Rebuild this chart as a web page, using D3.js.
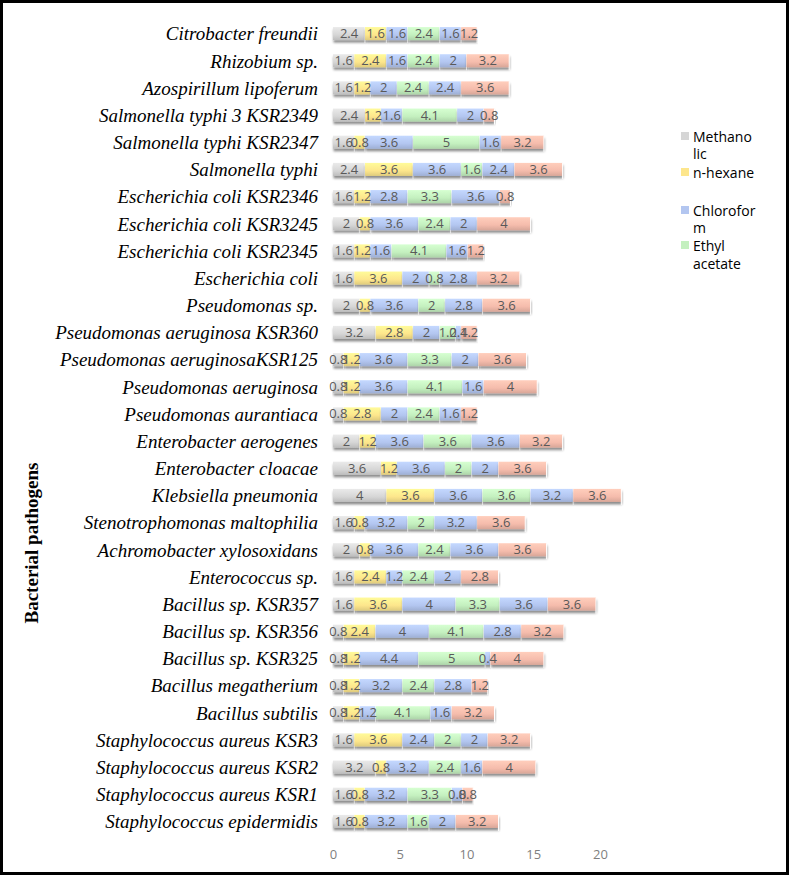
<!DOCTYPE html>
<html>
<head>
<meta charset="utf-8">
<script src="https://cdn.jsdelivr.net/npm/d3@7"></script>
<style>
  body { margin: 0; background: #fff; }
  svg { display: block; }
</style>
</head>
<body>
<div id="chart"></div>
<script>
var pathogens = [
  "Citrobacter freundii", "Rhizobium sp.", "Azospirillum lipoferum",
  "Salmonella typhi 3 KSR2349", "Salmonella typhi KSR2347", "Salmonella typhi ",
  "Escherichia coli KSR2346", "Escherichia coli KSR3245", "Escherichia coli KSR2345",
  "Escherichia coli ", "Pseudomonas sp.", "Pseudomonas aeruginosa KSR360",
  "Pseudomonas aeruginosaKSR125", "Pseudomonas aeruginosa", "Pseudomonas aurantiaca",
  "Enterobacter aerogenes", "Enterobacter cloacae", "Klebsiella pneumonia",
  "Stenotrophomonas maltophilia", "Achromobacter xylosoxidans", "Enterococcus sp.",
  "Bacillus sp. KSR357", "Bacillus sp. KSR356", "Bacillus sp. KSR325",
  "Bacillus megatherium", "Bacillus subtilis", "Staphylococcus aureus KSR3",
  "Staphylococcus aureus KSR2", "Staphylococcus aureus KSR1", "Staphylococcus epidermidis"
];

// one array per extract, same order as pathogens
var methanolic = [2.4,1.6,1.6,2.4,1.6,2.4,1.6,2,1.6,1.6,2,3.2,0.8,0.8,0.8,2,3.6,4,1.6,2,1.6,1.6,0.8,0.8,0.8,0.8,1.6,3.2,1.6,1.6];
var nhexane    = [1.6,2.4,1.2,1.2,0.8,3.6,1.2,0.8,1.2,3.6,0.8,2.8,1.2,1.2,2.8,1.2,1.2,3.6,0.8,0.8,2.4,3.6,2.4,1.2,1.2,1.2,3.6,0.8,0.8,0.8];
var chloroform = [1.6,1.6,2,1.6,3.6,3.6,2.8,3.6,1.6,2,3.6,2,3.6,3.6,2,3.6,3.6,3.6,3.2,3.6,1.2,4,4,4.4,3.2,1.2,2.4,3.2,3.2,3.2];
var ethylAc    = [2.4,2.4,2.4,4.1,5,1.6,3.3,2.4,4.1,0.8,2,1.2,3.3,4.1,2.4,3.6,2,3.6,2,2.4,2.4,3.3,4.1,5,2.4,4.1,2,2.4,3.3,1.6];
var series5    = [1.6,2,2.4,2,1.6,2.4,3.6,2,1.6,2.8,2.8,0.4,2,1.6,1.6,3.6,2,3.2,3.2,3.6,2,3.6,2.8,0.4,2.8,1.6,2,1.6,0.8,2];
var series6    = [1.2,3.2,3.6,0.8,3.2,3.6,0.8,4,1.2,3.2,3.6,1.2,3.6,4,1.2,3.2,3.6,3.6,3.6,3.6,2.8,3.6,3.2,4,1.2,3.2,3.2,4,0.8,3.2];

var seriesKeys = ["Methanolic", "n-hexane", "Chloroform", "Ethyl acetate", "s5", "s6"];
var seriesVals = [methanolic, nhexane, chloroform, ethylAc, series5, series6];
var xTicks = [0, 5, 10, 15, 20];

var colors = ["#d6d6d6", "#fde68c", "#b3c6f0", "#c4f0bf", "#b3c6f0", "#f5bcac"];
var legendLines = [
  {text: "Methano", y: 142, sw: 0}, {text: "lic", y: 159},
  {text: "n-hexane", y: 178, sw: 1},
  {text: "Chlorofor", y: 216, sw: 2}, {text: "m", y: 233},
  {text: "Ethyl", y: 251, sw: 3}, {text: "acetate", y: 269}
];

var W = 789, H = 875;

var svg = d3.select("#chart").append("svg")
  .attr("width", W).attr("height", H);

var defs = svg.append("defs");
colors.forEach(function(c, i) {
  var g = defs.append("linearGradient").attr("id", "grad" + i)
    .attr("x1", 0).attr("y1", 0).attr("x2", 0).attr("y2", 1);
  g.append("stop").attr("offset", "0%").attr("stop-color", d3.color(c).brighter(0.25));
  g.append("stop").attr("offset", "60%").attr("stop-color", c);
  g.append("stop").attr("offset", "100%").attr("stop-color", d3.color(c).darker(0.35));
});
var f = defs.append("filter").attr("id", "shadow")
  .attr("x", "-5%").attr("y", "-30%").attr("width", "110%").attr("height", "180%");
f.append("feDropShadow").attr("dx", 0.5).attr("dy", 2.5).attr("stdDeviation", 1.2)
  .attr("flood-color", "#000").attr("flood-opacity", 0.45);

svg.append("rect").attr("x", 1.5).attr("y", 1.5)
  .attr("width", W - 3).attr("height", H - 3)
  .attr("fill", "#fff").attr("stroke", "#000").attr("stroke-width", 3);

var x = d3.scaleLinear().domain([0, 20]).range([333, 600]);
var y = d3.scaleBand().domain(pathogens).range([20, 835]).paddingInner(0.52).paddingOuter(0.26);

var stackData = pathogens.map(function(p, i) {
  var o = {name: p};
  seriesKeys.forEach(function(k, j) { o[k] = seriesVals[j][i]; });
  return o;
});
var stacked = d3.stack().keys(seriesKeys)(stackData);

var layers = svg.selectAll(".layer")
  .data(stacked).enter().append("g")
  .attr("class", "layer")
  .attr("fill", function(d, i) { return "url(#grad" + i + ")"; });

layers.selectAll("rect")
  .data(function(d) { return d; })
  .enter().append("rect")
  .attr("x", function(d) { return x(d[0]); })
  .attr("y", function(d) { return y(d.data.name); })
  .attr("width", function(d) { return x(d[1]) - x(d[0]); })
  .attr("height", y.bandwidth())
  .attr("filter", "url(#shadow)");

// white separators between segments
layers.selectAll("line")
  .data(function(d) { return d; })
  .enter().append("line")
  .attr("x1", function(d) { return x(d[1]); })
  .attr("x2", function(d) { return x(d[1]); })
  .attr("y1", function(d) { return y(d.data.name); })
  .attr("y2", function(d) { return y(d.data.name) + y.bandwidth() + 3; })
  .attr("stroke", "#fff").attr("stroke-width", 1);

var labels = svg.append("g")
  .attr("font-family", "'Open Sans', 'Liberation Sans', sans-serif")
  .attr("font-size", 13).attr("fill", "#595959");
stacked.forEach(function(layer) {
  labels.selectAll(null)
    .data(layer).enter().append("text")
    .attr("x", function(d) { return (x(d[0]) + x(d[1])) / 2; })
    .attr("y", function(d) { return y(d.data.name) + y.bandwidth() / 2 + 4.5; })
    .attr("text-anchor", "middle")
    .text(function(d) { return d[1] - d[0] ? +(d[1] - d[0]).toFixed(1) : ""; });
});

// category axis
var yAxis = svg.append("g")
  .attr("transform", "translate(326,0)")
  .call(d3.axisLeft(y).tickSize(0).tickPadding(8));
yAxis.select(".domain").remove();
yAxis.selectAll("text")
  .attr("font-family", "'Liberation Serif', 'DejaVu Serif', serif")
  .attr("font-style", "italic").attr("font-size", 19).attr("fill", "#000")
  .attr("dy", "0.36em");

// value axis
var xAxis = svg.append("g")
  .attr("transform", "translate(0,840)")
  .call(d3.axisBottom(x).tickValues(xTicks).tickSize(0).tickPadding(10));
xAxis.select(".domain").remove();
xAxis.selectAll("text")
  .attr("font-family", "'Open Sans', 'Liberation Sans', sans-serif")
  .attr("font-size", 13).attr("fill", "#7f7f7f");

svg.append("text")
  .attr("transform", "translate(38,543) rotate(-90)")
  .attr("text-anchor", "middle")
  .attr("font-family", "'Liberation Serif', serif")
  .attr("font-weight", "bold").attr("font-size", 19)
  .text("Bacterial pathogens");

// legend
var leg = svg.append("g")
  .attr("font-family", "'Open Sans', 'Liberation Sans', sans-serif")
  .attr("font-size", 14).attr("fill", "#000");
legendLines.forEach(function(l) {
  if (l.sw !== undefined) {
    leg.append("rect").attr("x", 681).attr("y", l.y - 10)
      .attr("width", 8).attr("height", 8).attr("fill", colors[l.sw]);
  }
  leg.append("text").attr("x", 693).attr("y", l.y).text(l.text);
});
</script>
</body>
</html>
